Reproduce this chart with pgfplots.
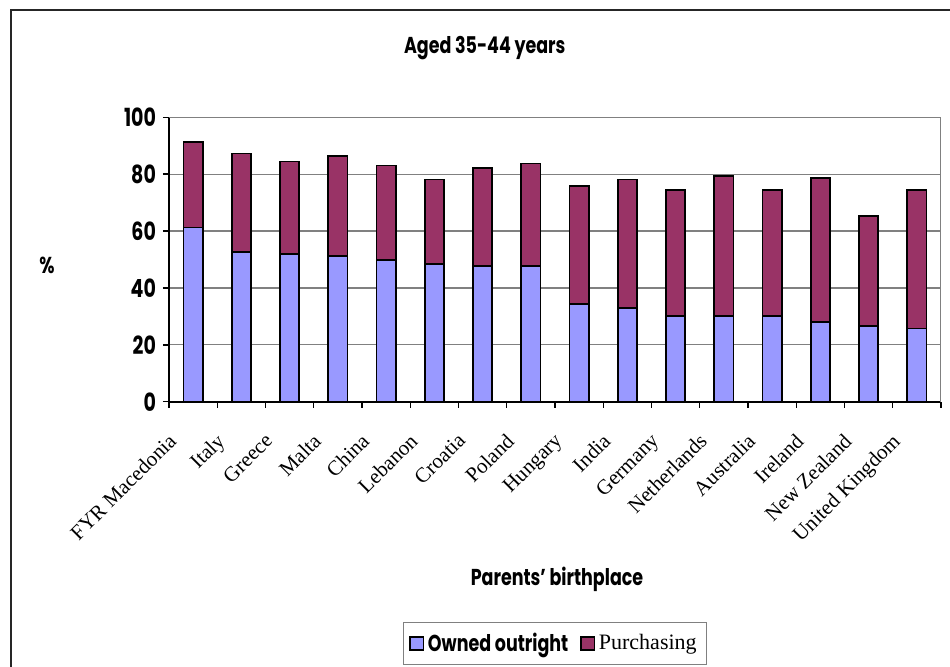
\documentclass[border=0pt]{standalone}
\usepackage{fontspec}
\setmainfont{Liberation Serif}
\setsansfont{Poppins}[FakeStretch=0.76]
\usepackage{pgfplots}
\pgfplotsset{compat=1.18}
\definecolor{owned}{HTML}{9999FF}
\definecolor{purch}{HTML}{993366}
\definecolor{gridgray}{HTML}{808080}

\begin{document}
\begin{tikzpicture}
\useasboundingbox (0,0) rectangle (475pt,-333pt);
% outer chart frame
\draw[line width=0.8pt, black!85] (5.5pt,-340pt) -- (5.5pt,-5pt) -- (480pt,-5pt);
\begin{axis}[
  at={(84.5pt,-200.85pt)}, anchor=south west,
  scale only axis, width=386pt, height=142.2pt,
  ybar stacked, bar width=0.4,
  xmin=-0.5, xmax=15.5, ymin=0, ymax=100,
  xtick={0,...,15},
  xticklabels={FYR Macedonia, Italy, Greece, Malta, China, Lebanon, Croatia, Poland, Hungary, India, Germany, Netherlands, Australia, Ireland, New Zealand, United Kingdom},
  minor xtick={-0.5,0.5,...,15.5},
  ytick={0,20,...,100},
  ymajorgrids, grid style={gridgray, line width=0.6pt},
  axis x line*=bottom, axis y line*=left,
  axis line style={black, line width=0.9pt, -},
  tick align=outside,
  major tick length=3pt, minor tick length=3pt,
  every tick/.style={black, line width=0.7pt},
  major x tick style={draw=none},
  /pgf/number format/assume math mode=true,
  yticklabel style={font=\sffamily\bfseries\fontsize{12.5}{13}\selectfont},
  xticklabel style={font=\rmfamily\fontsize{10.5}{11}\selectfont, xshift=-13pt, yshift=-12pt, rotate=45, anchor=north east, inner sep=0pt},
  title={Aged 35-44 years},
  every axis title/.style={at={(axis description cs:0.409,1.244)}, anchor=center, font=\sffamily\bfseries\fontsize{11.5}{12}\selectfont},
  xlabel={Parents' birthplace},
  every axis x label/.style={at={(axis description cs:0.5026,-0.623)}, anchor=center, font=\sffamily\bfseries\fontsize{11.5}{12}\selectfont},
  ylabel={\%},
  every axis y label/.style={at={(axis description cs:-0.158,0.481)}, anchor=center, font=\sffamily\bfseries\fontsize{11.5}{12}\selectfont},
  legend columns=2,
  legend style={at={(axis description cs:0.5,-0.85)}, anchor=center, draw=gridgray, line width=0.6pt, inner xsep=3pt, inner ysep=3pt,
    /tikz/every even column/.append style={column sep=4pt}},
  legend image code/.code={\draw[#1, line width=0.7pt] (0pt,-3.3pt) rectangle (6.6pt,3.3pt);},
]
\addplot[fill=owned, draw=black, line width=0.8pt] coordinates {
  (0,61.2) (1,52.6) (2,51.9) (3,51.2) (4,49.8) (5,48.4) (6,47.8) (7,47.8)
  (8,34.3) (9,32.9) (10,30.1) (11,30.1) (12,30.1) (13,28.1) (14,26.6) (15,25.8)};
\addlegendentry{\sffamily\bfseries\fontsize{11.5}{12}\selectfont Owned outright}
\addplot[fill=purch, draw=black, line width=0.8pt] coordinates {
  (0,30.1) (1,34.7) (2,32.6) (3,35.3) (4,33.2) (5,29.7) (6,34.4) (7,36.0)
  (8,41.5) (9,45.2) (10,44.3) (11,49.3) (12,44.3) (13,50.6) (14,38.7) (15,48.6)};
\addlegendentry{\rmfamily\fontsize{11}{12}\selectfont Purchasing}
% plot area border on the top and right
\draw[gridgray, line width=0.6pt] (rel axis cs:0,1) -- (rel axis cs:1,1) -- (rel axis cs:1,0);
\end{axis}
\end{tikzpicture}
\end{document}
